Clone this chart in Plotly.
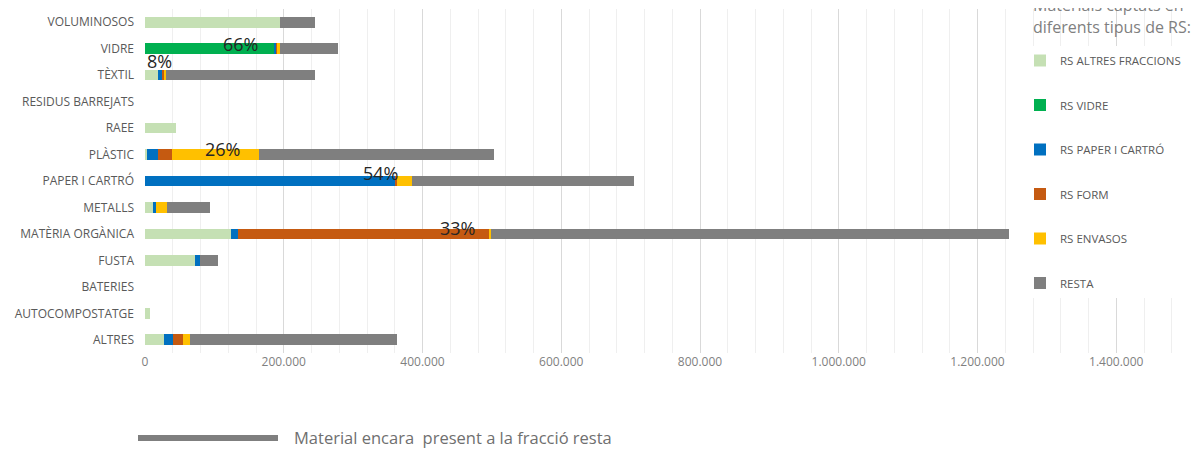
import plotly.graph_objects as go

categories = ["VOLUMINOSOS", "VIDRE", "TÈXTIL", "RESIDUS BARREJATS", "RAEE", "PLÀSTIC",
              "PAPER I CARTRÓ", "METALLS", "MATÈRIA ORGÀNICA", "FUSTA", "BATERIES",
              "AUTOCOMPOSTATGE", "ALTRES"]

rs_altres_fraccions = [194700, 0, 19000, 0, 44700, 2900, 0, 11500, 124000, 72000, 0, 7000, 27000]
rs_vidre =            [0, 186000, 0, 0, 0, 0, 0, 0, 0, 0, 0, 0, 0]
rs_paper_carto =      [0, 2900, 5800, 0, 0, 15900, 360500, 5000, 10000, 7000, 0, 0, 13000]
rs_form =             [0, 1500, 2900, 0, 0, 20200, 3000, 0, 362000, 0, 0, 0, 15000]
rs_envasos =          [0, 4500, 2900, 0, 0, 125500, 21600, 15000, 2900, 0, 0, 0, 10000]
resta =               [50500, 83600, 215000, 0, 0, 339000, 320000, 62000, 747000, 26000, 0, 0, 298000]

series_names = ["RS ALTRES FRACCIONS", "RS VIDRE", "RS PAPER I CARTRÓ", "RS FORM", "RS ENVASOS", "RESTA"]
series_colors = ["#C5E0B4", "#00B050", "#0070C0", "#C55A11", "#FFC000", "#7F7F7F"]
series_values = [rs_altres_fraccions, rs_vidre, rs_paper_carto, rs_form, rs_envasos, resta]

pct_categories = ["VIDRE", "TÈXTIL", "PLÀSTIC", "PAPER I CARTRÓ", "MATÈRIA ORGÀNICA"]
pct_labels = ["66%", "8%", "26%", "54%", "33%"]
pct_x = [137000, 21600, 111000, 339000, 451000]
pct_shift = [5, 14, 6, 8, 6]

x_max = 1525000

# The page body adds an 8px offset; work in screen pixels and convert.
OFF = 8
L, R, T, B = 145 - OFF, 1203 - OFF, 9 - OFF, 353 - OFF
W, H = 1203 - OFF, 449 - OFF


def px(sx):
    return (sx - OFF - L) / (R - L)


def py(sy):
    return 1 - (sy - OFF - T) / (B - T)


fig = go.Figure()
for name, color, vals in zip(series_names, series_colors, series_values):
    fig.add_trace(go.Bar(
        y=categories, x=vals, name=name, orientation="h",
        marker=dict(color=color, line=dict(width=0)),
        width=0.4, legendgroup=name,
    ))

for cat, lab, xv, sh in zip(pct_categories, pct_labels, pct_x, pct_shift):
    fig.add_annotation(x=xv, y=cat, text=lab, showarrow=False, yshift=sh,
                       font=dict(family="Open Sans", size=18, color="#262626"))

# legend title
fig.add_annotation(xref="paper", yref="paper", x=px(1031), y=py(5),
                   xanchor="left", yanchor="middle", text="Materials captats en", showarrow=False,
                   font=dict(family="Open Sans", size=16, color="#7F7F7F"))
fig.add_annotation(xref="paper", yref="paper", x=px(1031), y=py(27),
                   xanchor="left", yanchor="middle", text="diferents tipus de RS:", showarrow=False,
                   font=dict(family="Open Sans", size=16, color="#7F7F7F"))

# bottom note
fig.add_shape(type="line", xref="paper", yref="paper",
              x0=px(138), x1=px(278), y0=py(438), y1=py(438),
              line=dict(color="#7F7F7F", width=6))
fig.add_annotation(xref="paper", yref="paper", x=px(292), y=py(437),
                   xanchor="left", yanchor="middle", showarrow=False,
                   text="Material encara  present a la fracció resta",
                   font=dict(family="Open Sans", size=16.5, color="#6F6F6F"))

fig.update_layout(
    barmode="stack",
    width=W, height=H,
    margin=dict(l=L, r=W - R, t=T, b=H - B, autoexpand=False),
    paper_bgcolor="white", plot_bgcolor="white",
    separators=",.",
    font=dict(family="Open Sans", color="#595959"),
    showlegend=True,
    legend=dict(
        x=px(1020), y=py(46), xanchor="left", yanchor="top",
        bgcolor="white", font=dict(size=11.5, color="#595959"),
        tracegroupgap=25.5, itemwidth=30, traceorder="grouped",
    ),
    xaxis=dict(
        range=[0, x_max], dtick=200000, tick0=0, tickformat=",d",
        showgrid=True, gridcolor="#D9D9D9", gridwidth=1,
        minor=dict(dtick=40000, showgrid=True, gridcolor="#EFEFEF", gridwidth=1),
        zeroline=False, showline=False, ticks="", automargin=False,
        tickfont=dict(size=12, color="#7F7F7F"),
    ),
    yaxis=dict(
        categoryorder="array", categoryarray=categories, autorange="reversed",
        showgrid=False, zeroline=False, showline=False, ticks="", automargin=False,
        ticklabelstandoff=10,
        tickfont=dict(size=12, color="#595959"),
    ),
)

fig.write_html("out.html")
